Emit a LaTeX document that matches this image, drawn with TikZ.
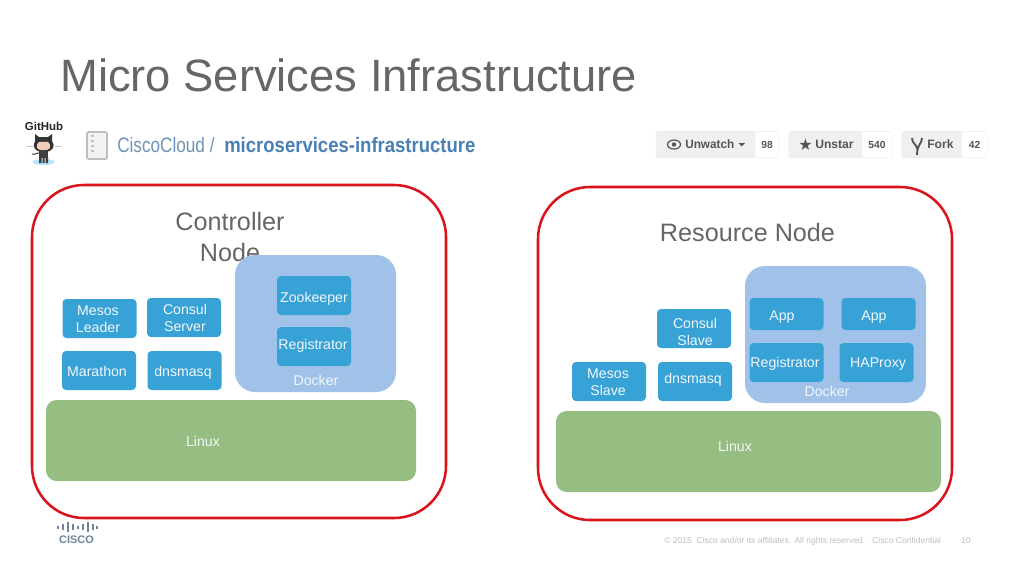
\documentclass[tikz,border=0pt]{standalone}
\usepackage{fontspec}
\usepackage{graphicx}
\setmainfont{Liberation Sans}
\newfontfamily\symfont{DejaVu Sans}
\definecolor{titlegray}{HTML}{666666}
\definecolor{redline}{HTML}{D9141C}
\definecolor{bluebox}{HTML}{36A2D6}
\definecolor{dockerblue}{HTML}{A0C1E8}
\definecolor{linuxgreen}{HTML}{97BE82}
\definecolor{ghblue}{HTML}{6F93B8}
\definecolor{ghbold}{HTML}{4A80B5}
\definecolor{btngray}{HTML}{F0F0F0}
\definecolor{btntext}{HTML}{555555}
\definecolor{ciscoc}{HTML}{6F8296}
\definecolor{softwhite}{HTML}{F3F6FA}
\definecolor{skin}{HTML}{EFCDB9}
\tikzset{
  frame/.style={draw=redline,line width=1.9pt,rounded corners=39pt,fill=white,minimum width=310.5pt,minimum height=249.75pt,inner sep=0pt},
  svc/.style={fill=bluebox,rounded corners=3pt,minimum width=55.5pt,inner sep=0pt},
  docker/.style={fill=dockerblue,rounded corners=15pt,inner sep=0pt,minimum height=102.75pt},
  linux/.style={fill=linuxgreen,rounded corners=8pt,inner sep=0pt,minimum height=60.75pt},
  lbl/.style={inner sep=0pt,text=titlegray,align=center},
  twolbl/.style={inner sep=0pt,text=softwhite,align=center,font=\fontsize{10.6pt}{12.75pt}\selectfont},
  whitelbl/.style={twolbl,text height=7.6pt,text depth=0pt},
  head/.style={lbl,font=\fontsize{18.9pt}{23.2pt}\selectfont},
  btn/.style={fill=btngray,draw=black!8,line width=.4pt,rounded corners=1.5pt,inner sep=0pt,minimum height=19.5pt},
  cnt/.style={fill=white,draw=black!5,line width=.4pt,rounded corners=1.5pt,inner sep=0pt,minimum height=19.5pt,font=\bfseries\fontsize{7.7pt}{9pt}\selectfont,text=btntext},
  btnt/.style={inner sep=0pt,font=\bfseries\fontsize{9.1pt}{11pt}\selectfont,text=btntext},
  foot/.style={inner sep=0pt,text=black!25,font=\fontsize{6.4pt}{8pt}\selectfont},
  cbar/.style={line width=1.2pt,draw=ciscoc}
}
\begin{document}
\begin{tikzpicture}[x=.75pt,y=-.75pt]
\useasboundingbox (0,0) rectangle (1024,576);
\fill[white] (0,0) rectangle (1024,576);
\node[anchor=base west,inner sep=0pt,text=titlegray,font=\fontsize{34pt}{38pt}\selectfont] (title) at (60,91) {Micro Services Infrastructure};
% github
\node[inner sep=0pt,font=\bfseries\fontsize{8.6pt}{10pt}\selectfont,text=black!85] (gh) at (44,126.5) {GitHub};
\draw[black!25,line width=.4pt] (27,146) -- (33,146) (55,146) -- (61,146);
\fill[black!80] (35,141) -- (35,134) -- (39,137) -- (48,137) -- (52,134) -- (52,141) .. controls (56,146) and (53,152) .. (44,152) .. controls (34,152) and (32,146) .. (35,141) -- cycle;
\fill[skin] (37,148) .. controls (36,142) and (40,141) .. (43.5,142) .. controls (47,141) and (51,142) .. (50,148) .. controls (49,151) and (38,151) .. (37,148) -- cycle;
\fill[cyan!30] (43.5,162) ellipse (11 and 3);
\fill[black!75] (39,151) rectangle (48,158);
\fill[black!75] (39,157) rectangle (41.5,163) (42.5,157) rectangle (44.5,163) (45.5,157) rectangle (48,163);
\draw[black!70,line width=.8pt] (39,153) .. controls (35,153) and (34,156) .. (32,154);
% repo icon
\draw[black!25,line width=1.3pt,fill=black!5,rounded corners=1pt] (87,132) rectangle (107,159);
\draw[black!25,line width=1pt] (91,136) -- (94,136) (91,141) -- (94,141) (91,146) -- (94,146) (91,151) -- (94,151);
\node[anchor=base west,inner sep=0pt,text=ghblue,font=\fontsize{15.7pt}{19pt}\selectfont] (repo) at (117,152) {\scalebox{.82}[1]{CiscoCloud /}};
\node[anchor=base west,inner sep=0pt,text=ghbold,font=\bfseries\fontsize{15.7pt}{19pt}\selectfont] (repob) at (224,152) {\scalebox{.885}[1]{microservices-infrastructure}};
% buttons
\node[btn,minimum width=74pt] (b1) at (705.5,144.5) {};
\node[cnt,minimum width=18pt] (c1) at (767,144.5) {98};
\node[btn,minimum width=55pt] (b2) at (825.5,144.5) {};
\node[cnt,minimum width=22.5pt] (c2) at (877,144.5) {540};
\node[btn,minimum width=45pt] (b3) at (932,144.5) {};
\node[cnt,minimum width=19pt] (c3) at (974.5,144.5) {42};
\draw[btntext,line width=.9pt] (674,144.5) ellipse (6.5 and 4.5);
\fill[btntext] (674,144.5) circle (2.2);
\node[btnt,anchor=west] (t1) at (685,144.5) {\scalebox{.97}[1]{Unwatch}};
\fill[btntext] (738.5,143) -- (745,143) -- (741.75,146.5) -- cycle;
\node[inner sep=0pt,text=btntext,font=\symfont\fontsize{12pt}{14pt}\selectfont] (star) at (805.5,145) {★};
\node[btnt,anchor=west] (t2) at (815,144.5) {Unstar};
\draw[btntext,line width=1.4pt] (912,138) .. controls (912,144) and (917,144) .. (917,149) (922,138) .. controls (922,144) and (917,144) .. (917,155);
\node[btnt,anchor=west] (t3) at (927,144.5) {Fork};
% left panel
\node[frame] (ctrl) at (239,351.5) {};
\node[head] (ctrlt) at (230,237) {Controller\\Node};
\node[docker,minimum width=120.75pt] (dockl) at (315.5,323.5) {};
\node[svc,minimum height=29.25pt] (zk) at (314,295.5) {};
\node[whitelbl] (zkt) at (314,297) {Zookeeper};
\node[svc,minimum height=29.25pt] (regl) at (314,346.5) {};
\node[whitelbl] (reglt) at (313,344) {Registrator};
\node[whitelbl] (dl) at (316,380) {Docker};
\node[svc,minimum height=29.25pt] (ml) at (99.5,318.5) {};
\node[twolbl] (mlt) at (98,319.5) {Mesos\\Leader};
\node[svc,minimum height=29.25pt] (cs) at (184,317.5) {};
\node[twolbl] (cst) at (185,318) {Consul\\Server};
\node[svc,minimum height=29.25pt] (mar) at (99,370.5) {};
\node[whitelbl] (mart) at (97,371) {Marathon};
\node[svc,minimum height=29.25pt] (dnsl) at (184.5,370.5) {};
\node[whitelbl] (dnslt) at (183,371) {dnsmasq};
\node[linux,minimum width=277.5pt] (lxl) at (231,440.5) {};
\node[whitelbl] (lxlt) at (203,441) {Linux};
% right panel
\node[frame] (res) at (745,353.5) {};
\node[head,anchor=base] (rest) at (747.5,241) {Resource Node};
\node[docker,minimum width=135.75pt] (dockr) at (835.5,334.5) {};
\node[svc,minimum height=24pt] (app1) at (786.5,314) {};
\node[whitelbl] (app1t) at (782,315) {App};
\node[svc,minimum height=24pt] (app2) at (878.5,314) {};
\node[whitelbl] (app2t) at (874,315) {App};
\node[svc,minimum height=29.25pt] (regr) at (786.5,362.5) {};
\node[whitelbl] (regrt) at (785,362) {Registrator};
\node[svc,minimum height=29.25pt] (hap) at (876.5,362.5) {};
\node[whitelbl] (hapt) at (878,362) {HAProxy};
\node[whitelbl] (dr) at (827,391) {Docker};
\node[svc,minimum height=29.25pt] (cons) at (694,328.5) {};
\node[twolbl] (const) at (695,331.5) {Consul\\Slave};
\node[svc,minimum height=29.25pt] (dnsr) at (695,381.5) {};
\node[whitelbl] (dnsrt) at (693,378) {dnsmasq};
\node[svc,minimum height=29.25pt] (ms) at (609,381.5) {};
\node[twolbl] (mst) at (608,382.5) {Mesos\\Slave};
\node[linux,minimum width=288.75pt] (lxr) at (748.5,451.5) {};
\node[whitelbl] (lxrt) at (735,446.5) {Linux};
% cisco logo
\foreach \x/\h in {58/1.5,63/3,68/5,73/3,78/1.5,83/3,88/5,93/3,97/1.5}
  \draw[cbar] (\x,527-\h) -- (\x,527+\h);
\node[inner sep=0pt,text=ciscoc,font=\bfseries\fontsize{8.2pt}{9pt}\selectfont] (cisco) at (76.5,539.5) {CISCO};
% footer
\node[foot,anchor=base west] (copy) at (664,543) {© 2015\ \ Cisco and/or its affiliates. All rights reserved.\ \ \ Cisco Confidential};
\node[foot,anchor=base west] (page) at (961,543) {10};
\end{tikzpicture}
\end{document}
